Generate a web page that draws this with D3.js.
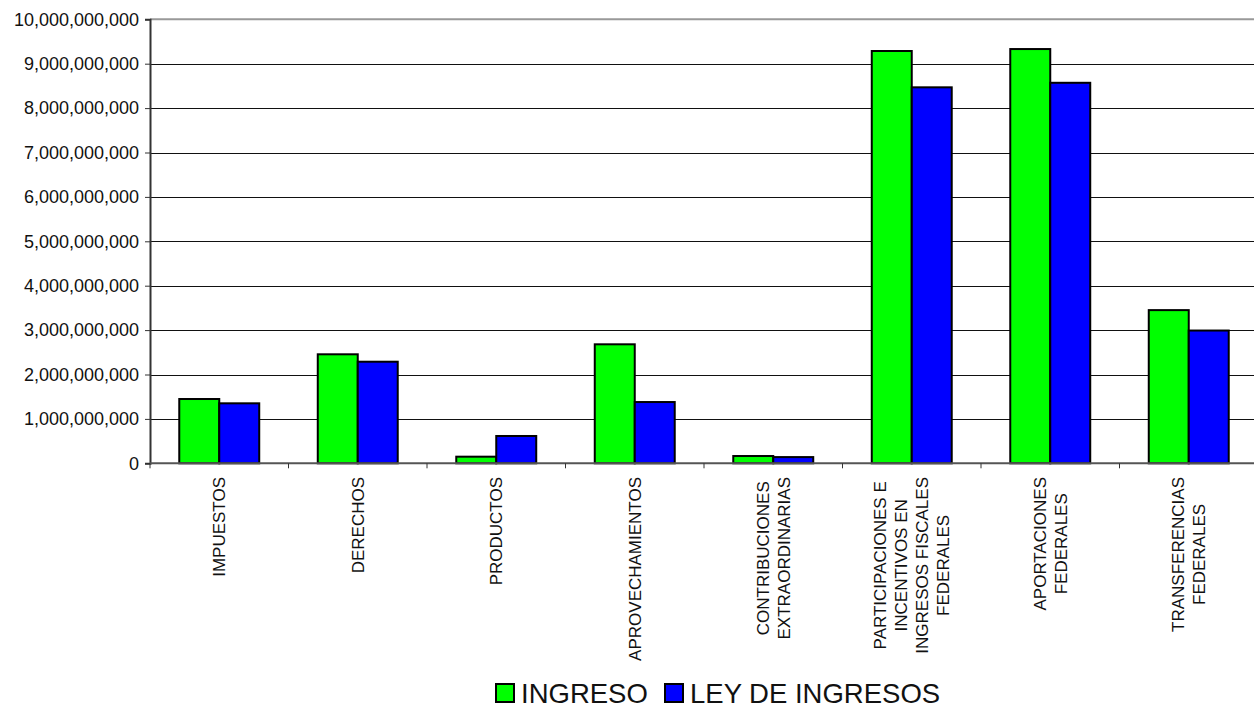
<!DOCTYPE html>
<html>
<head>
<meta charset="utf-8">
<script src="https://cdn.jsdelivr.net/npm/d3@7"></script>
<style>
html,body{margin:0;padding:0;background:#fff;}
svg{display:block;font-family:Arial,"Liberation Sans",sans-serif;}
</style>
</head>
<body>
<svg id="chart" width="1254" height="710"></svg>
<script>
const categories = [
  ["IMPUESTOS"],
  ["DERECHOS"],
  ["PRODUCTOS"],
  ["APROVECHAMIENTOS"],
  ["CONTRIBUCIONES", "EXTRAORDINARIAS"],
  ["PARTICIPACIONES E", "INCENTIVOS EN", "INGRESOS FISCALES", "FEDERALES"],
  ["APORTACIONES", "FEDERALES"],
  ["TRANSFERENCIAS", "FEDERALES"]
];
const seriesNames = ["INGRESO", "LEY DE INGRESOS"];
const ingreso = [1448000000, 2455000000, 149000000, 2680000000, 164000000, 9286000000, 9330000000, 3450000000];
const leyIngresos = [1351000000, 2288000000, 615000000, 1380000000, 140000000, 8468000000, 8570000000, 2990000000];
const yTicks = [0,1000000000,2000000000,3000000000,4000000000,5000000000,6000000000,7000000000,8000000000,9000000000,10000000000];
const colors = ["#00FF00", "#0000FF"];

(function(){
const svg = d3.select("#chart");
const pl = 150, pr = 1258, pt = 19.3, pb = 463.3;

const x = d3.scaleBand().domain(d3.range(categories.length)).range([pl, pr]).paddingInner(0).paddingOuter(0);
const y = d3.scaleLinear().domain([0, 10000000000]).range([pb, pt]);
const bw = x.bandwidth() * 0.2887;
const xs = d3.scaleBand().domain([0,1]).range([0, 2*bw]);

// gridlines
svg.append("g").selectAll("line").data(yTicks.filter(t => t > 0 && t < 10000000000)).join("line")
  .attr("x1", pl).attr("x2", pr)
  .attr("y1", d => Math.round(y(d)) + 0.5).attr("y2", d => Math.round(y(d)) + 0.5)
  .attr("stroke", "#111").attr("stroke-width", 1);
// top border
svg.append("line").attr("x1", pl).attr("x2", pr).attr("y1", y(10000000000)).attr("y2", y(10000000000))
  .attr("stroke", "#999").attr("stroke-width", 2);

// y axis
const yAxis = d3.axisLeft(y).tickValues(yTicks).tickSize(5).tickPadding(6).tickFormat(d3.format(","));
const ya = svg.append("g").attr("transform", `translate(${pl},0)`).call(yAxis);
ya.select(".domain").attr("stroke", "#333").attr("stroke-width", 2);
ya.selectAll(".tick line").attr("stroke", "#333");
ya.selectAll("text").attr("font-size", 18).attr("fill", "#111").attr("font-family", "Arial, 'Liberation Sans', sans-serif");

// bars
const data = categories.map((c, i) => [ingreso[i], leyIngresos[i]]);
const groups = svg.append("g").selectAll("g").data(data).join("g")
  .attr("transform", (d, i) => `translate(${x(i) + (x.bandwidth() - 2*bw)/2},0)`);
groups.selectAll("rect").data(d => d.map((v, s) => ({v, s}))).join("rect")
  .attr("x", d => xs(d.s)).attr("width", xs.bandwidth())
  .attr("y", d => y(d.v)).attr("height", d => pb - y(d.v))
  .attr("fill", d => colors[d.s]).attr("stroke", "#000").attr("stroke-width", 2);

// x axis
const xAxis = d3.axisBottom(x).tickSize(0).tickFormat("");
const xa = svg.append("g").attr("transform", `translate(0,${pb})`).call(xAxis);
xa.select(".domain").attr("stroke", "#555").attr("stroke-width", 2).attr("d", `M${pl},0H${pr}`);
// category boundary ticks
svg.append("g").selectAll("line").data(d3.range(categories.length + 1)).join("line")
  .attr("x1", i => x.step() * i + pl).attr("x2", i => x.step() * i + pl)
  .attr("y1", pb).attr("y2", pb + 5).attr("stroke", "#333").attr("stroke-width", 1);

// category labels (rotated)
const labelTop = 477, lineH = 21, catFont = 17;
categories.forEach((lines, i) => {
  const g = svg.append("g");
  const texts = lines.map((ln, k) => {
    const cx = x(i) + x.bandwidth()/2 + (k - (lines.length - 1)/2) * lineH;
    return g.append("text").text(ln).attr("font-size", catFont).attr("fill", "#111")
      .attr("data-cx", cx);
  });
  const maxW = d3.max(texts, t => t.node().getComputedTextLength());
  const cy = labelTop + maxW/2;
  texts.forEach(t => {
    const cx = +t.attr("data-cx");
    t.attr("text-anchor", "middle").attr("dy", "0.35em")
      .attr("transform", `translate(${cx},${cy}) rotate(-90)`);
  });
});

// legend
const legend = svg.append("g");
const legItems = [{x: 496, tx: 521}, {x: 665, tx: 690}];
seriesNames.forEach((n, s) => {
  legend.append("rect").attr("x", legItems[s].x).attr("y", 684).attr("width", 18).attr("height", 18)
    .attr("fill", colors[s]).attr("stroke", "#000").attr("stroke-width", 2);
  legend.append("text").attr("x", legItems[s].tx).attr("y", 703).text(n)
    .attr("font-size", 27.5).attr("fill", "#111");
});
})();
</script>
</body>
</html>
